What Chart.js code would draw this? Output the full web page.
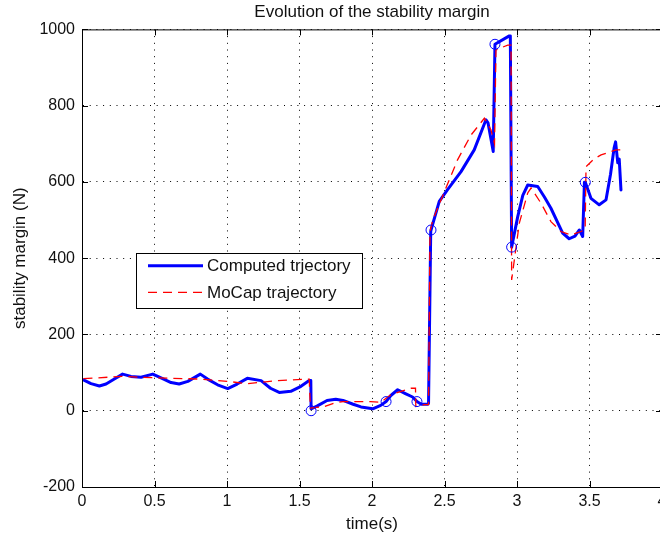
<!DOCTYPE html>
<html>
<head>
<meta charset="utf-8">
<title>Evolution of the stability margin</title>
<script src="https://cdn.jsdelivr.net/npm/chart.js@4/dist/chart.umd.min.js"></script>
<style>
  html, body { margin: 0; padding: 0; background: #fff; overflow: hidden; }
  #wrap { width: 660px; height: 541px; overflow: hidden; }
</style>
</head>
<body>
<div id="wrap"><canvas id="chart" width="680" height="541" style="width:680px;height:541px"></canvas></div>
<script>
// series names (legend)
const seriesNames = ['Computed trjectory', 'MoCap trajectory'];

// computed trajectory (blue, solid)
const compT = [0.01, 0.062, 0.12, 0.166, 0.223, 0.28, 0.338, 0.407, 0.488, 0.545, 0.614, 0.67, 0.73, 0.816, 0.866, 0.935, 1.005, 1.07, 1.14, 1.235, 1.30, 1.36, 1.44, 1.51, 1.567,
  1.578, 1.58, 1.62, 1.69, 1.75, 1.80, 1.87, 1.924, 2.005, 2.06, 2.097, 2.13, 2.177, 2.23, 2.28, 2.31, 2.34, 2.385, 2.39,
  2.405, 2.407, 2.464, 2.52, 2.614, 2.705, 2.786, 2.80, 2.836, 2.84, 2.848, 2.947, 2.954, 2.963,
  3.005, 3.04, 3.074, 3.143, 3.19, 3.234, 3.315, 3.36, 3.40, 3.43, 3.453, 3.465, 3.471, 3.51, 3.567, 3.614, 3.645, 3.67, 3.68, 3.695, 3.705, 3.717];
const compV = [81, 71, 65, 70, 83, 96, 90, 88, 96, 86, 74, 70, 77, 96, 83, 68, 58, 70, 85, 79, 59, 48, 51, 64, 79,
  79, 5, 12, 27, 30, 27, 17, 10, 5, 14, 24, 40, 55, 45, 36, 24, 17, 17, 20,
  470, 474, 549, 579, 627, 684, 763, 755, 680, 680, 961, 983, 983, 429,
  509, 565, 592, 588, 560, 531, 466, 451, 458, 474, 457, 599, 599, 557, 540, 553, 620, 690, 705, 650, 660, 579];

// MoCap trajectory (red, dashed)
const mocapT = [0.01, 0.27, 0.53, 0.82, 1.005, 1.14, 1.35, 1.567, 1.575, 1.67, 1.74, 1.80, 1.99, 2.06, 2.13, 2.27, 2.30, 2.302, 2.36, 2.39,
  2.40, 2.419, 2.50, 2.59, 2.683, 2.775, 2.82, 2.845, 2.855, 2.936, 2.959, 2.963,
  3.016, 3.074, 3.097, 3.166, 3.234, 3.303, 3.372, 3.441, 3.47, 3.476, 3.53, 3.58, 3.683, 3.717];
const mocapV = [84, 90, 86, 83, 77, 71, 79, 83, 7, 11, 20, 24, 24, 22, 42, 59, 59, 11, 16, 16,
  470, 500, 575, 658, 723, 767, 737, 700, 946, 959, 959, 343,
  492, 571, 584, 544, 496, 470, 461, 470, 475, 640, 660, 671, 684, 684];

// circle markers on the computed trajectory
const markT = [1.58, 2.097, 2.31, 2.407, 2.848, 2.963, 3.471];
const markV = [0, 24, 24, 474, 961, 429, 599];

// axis ticks
const xTicks = [0, 0.5, 1, 1.5, 2, 2.5, 3, 3.5, 4];
const yTicks = [-200, 0, 200, 400, 600, 800, 1000];

const toPts = (t, v) => t.map((x, i) => ({x: x, y: v[i]}));
const FONT = '"Liberation Sans", Arial, Helvetica, sans-serif';

const frameAndLegend = {
  id: 'frameAndLegend',
  afterDraw(chart) {
    const {ctx, chartArea: a, scales: {x, y}} = chart;
    ctx.save();
    ctx.strokeStyle = '#000';
    ctx.lineWidth = 1;
    ctx.setLineDash([]);
    ctx.beginPath();
    ctx.rect(a.left + 0.5, a.top + 0.5, a.right - a.left, a.bottom - a.top);
    x.ticks.forEach(t => {
      const px = Math.round(x.getPixelForValue(t.value)) + 0.5;
      ctx.moveTo(px, a.bottom); ctx.lineTo(px, a.bottom - 6);
      ctx.moveTo(px, a.top); ctx.lineTo(px, a.top + 6);
    });
    y.ticks.forEach(t => {
      const py = Math.round(y.getPixelForValue(t.value)) + 0.5;
      ctx.moveTo(a.left, py); ctx.lineTo(a.left + 6, py);
      ctx.moveTo(a.right, py); ctx.lineTo(a.right - 6, py);
    });
    ctx.stroke();

    // legend box
    const bx = 136.5, by = 253.5, bw = 226, bh = 55;
    ctx.fillStyle = '#fff';
    ctx.fillRect(bx, by, bw, bh);
    ctx.strokeRect(bx, by, bw, bh);
    const ds = chart.data.datasets;
    const rows = [265.7, 292.3];
    [0, 1].forEach(i => {
      ctx.beginPath();
      ctx.strokeStyle = ds[i].borderColor;
      ctx.lineWidth = ds[i].borderWidth;
      ctx.setLineDash(ds[i].borderDash || []);
      ctx.moveTo(148, rows[i]);
      ctx.lineTo(203, rows[i]);
      ctx.stroke();
      ctx.setLineDash([]);
      ctx.fillStyle = '#111';
      ctx.font = '17px ' + FONT;
      ctx.textAlign = 'left';
      ctx.textBaseline = 'middle';
      ctx.fillText(ds[i].label, 207, rows[i] + 1);
    });
    ctx.restore();
  }
};

new Chart(document.getElementById('chart'), {
  type: 'line',
  data: {
    datasets: [
      {
        label: seriesNames[0],
        data: toPts(compT, compV),
        borderColor: '#0000ff',
        borderWidth: 3,
        borderJoinStyle: 'round',
        borderCapStyle: 'round',
        pointRadius: 0,
        tension: 0,
        order: 3
      },
      {
        label: seriesNames[1],
        data: toPts(mocapT, mocapV),
        borderColor: '#ff0000',
        borderWidth: 1.3,
        borderDash: [9, 6],
        pointRadius: 0,
        tension: 0,
        order: 2
      },
      {
        label: 'markers',
        data: toPts(markT, markV),
        showLine: false,
        pointRadius: 5,
        pointBorderWidth: 1,
        pointBorderColor: '#0000ff',
        pointBackgroundColor: 'rgba(0,0,0,0)',
        order: 1
      }
    ]
  },
  options: {
    responsive: false,
    animation: false,
    devicePixelRatio: 1,
    layout: { padding: { left: 0, right: 18, top: 0, bottom: 0 } },
    plugins: {
      legend: { display: false },
      tooltip: { enabled: false },
      title: {
        display: true,
        fullSize: false,
        text: 'Evolution of the stability margin',
        color: '#111',
        font: { family: FONT, size: 17, weight: 'normal' },
        padding: { top: 2, bottom: 7 }
      }
    },
    scales: {
      x: {
        type: 'linear',
        min: 0,
        max: 4,
        afterBuildTicks: s => { s.ticks = xTicks.map(v => ({value: v})); },
        afterFit: s => { s.height = 54; },
        ticks: { color: '#111', font: { family: FONT, size: 16 }, padding: 5, maxRotation: 0, callback: v => String(v) },
        grid: { color: '#000', lineWidth: 1, drawTicks: false },
        border: { display: true, color: '#000', width: 1, dash: [1, 5.7] },
        title: { display: true, text: 'time(s)', color: '#111', font: { family: FONT, size: 17 }, padding: { top: 0, bottom: 6 } }
      },
      y: {
        type: 'linear',
        min: -200,
        max: 1000,
        afterBuildTicks: s => { s.ticks = yTicks.map(v => ({value: v})); },
        afterFit: s => { s.width = 82; },
        ticks: { color: '#111', font: { family: FONT, size: 16 }, padding: 7, callback: v => String(v) },
        grid: { color: '#000', lineWidth: 1, drawTicks: false },
        border: { display: true, color: '#000', width: 1, dash: [1, 5.7] },
        title: { display: true, text: 'stability margin (N)', color: '#111', font: { family: FONT, size: 17 }, padding: { top: 10, bottom: 0 } }
      }
    }
  },
  plugins: [frameAndLegend]
});
</script>
</body>
</html>
